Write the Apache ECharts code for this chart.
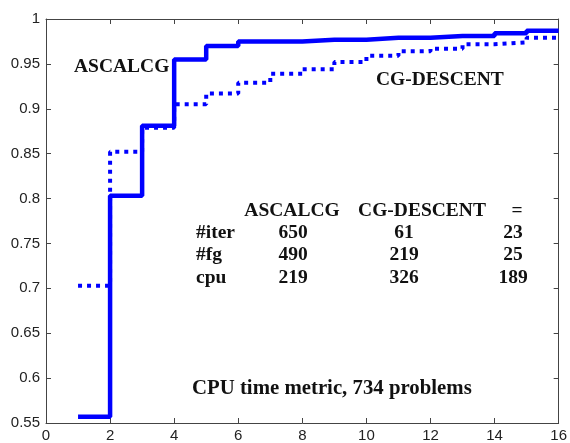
<!DOCTYPE html>
<html><head><meta charset="utf-8">
<script src="https://cdn.jsdelivr.net/npm/echarts@6/dist/echarts.min.js"></script>
<style>html,body{margin:0;padding:0;background:#fff}#c{width:570px;height:443px}</style>
</head><body><div id="c"></div>
<script>
const xs = [1,2,3,4,5,6,7,8,9,10,11,12,13,14,15,16];
const ascalcg = [0.557,0.803,0.881,0.955,0.970,0.975,0.975,0.977,0.977,0.979,0.979,0.981,0.981,0.984,0.987,0.987];
const cgdescent = [0.703,0.852,0.879,0.905,0.917,0.929,0.939,0.944,0.952,0.959,0.964,0.967,0.972,0.974,0.979,0.979];
const seriesNames = ['ASCALCG','CG-DESCENT'];
const tableHeader = ['ASCALCG','CG-DESCENT','='];
const rowLabels = ['#iter','#fg','cpu'];
const rowAscalcg = [650,490,219];
const rowCgdescent = [61,219,326];
const rowEqual = [23,25,189];
const caption = 'CPU time metric, 734 problems';

const chart = echarts.init(document.getElementById('c'));
const serif = '"Liberation Serif", "Times New Roman", serif';
const tf = {fontFamily: serif, fontWeight: 'bold', fontSize: 19.5, fill: '#111'};
const axisLine = {show: true, onZero: false, lineStyle: {color: '#444', width: 1}};
const tick = {show: true, inside: true, length: 5, lineStyle: {color: '#444'}};
const lbl = {fontFamily: '"Liberation Sans", Arial, sans-serif', fontSize: 15, color: '#222'};

const g = [];
function txt(x, y, s, align, size) {
  g.push({type: 'text', x: x, y: y, z: 10, style: Object.assign({}, tf, {text: String(s), textAlign: align || 'left', textVerticalAlign: 'middle'}, size ? {fontSize: size} : {})});
}
txt(74, 67, seriesNames[0]);
txt(376, 80, seriesNames[1]);
txt(292, 211, tableHeader[0], 'center');
txt(422, 211, tableHeader[1], 'center');
txt(517, 211, tableHeader[2], 'center');
const rowY = [233, 255, 278];
rowLabels.forEach((r, i) => {
  txt(196, rowY[i], r);
  txt(293, rowY[i], rowAscalcg[i], 'center');
  txt(404, rowY[i], rowCgdescent[i], 'center');
  txt(513, rowY[i], rowEqual[i], 'center');
});
txt(192, 389, caption, 'left', 20.8);

chart.setOption({
  animation: false,
  grid: {left: 46, right: 9, top: 19, bottom: 17, containLabel: false},
  xAxis: [
    {type: 'value', min: 0, max: 16, interval: 2, axisLine: axisLine, axisTick: tick, splitLine: {show: false},
     axisLabel: Object.assign({margin: 5}, lbl)},
    {type: 'value', position: 'top', min: 0, max: 16, interval: 2, axisLine: axisLine, axisTick: tick, splitLine: {show: false},
     axisLabel: {show: false}}
  ],
  yAxis: [
    {type: 'value', min: 0.55, max: 1, interval: 0.05, axisLine: axisLine, axisTick: tick, splitLine: {show: false},
     axisLabel: Object.assign({margin: 6, formatter: v => String(+v.toFixed(2))}, lbl)},
    {type: 'value', position: 'right', min: 0.55, max: 1, interval: 0.05, axisLine: axisLine, axisTick: tick, splitLine: {show: false},
     axisLabel: {show: false}}
  ],
  series: [
    {name: seriesNames[1], type: 'line', step: 'end', showSymbol: false, z: 2,
     data: xs.map((x, i) => [x, cgdescent[i]]),
     lineStyle: {color: '#0000ff', width: 4, type: [4, 5], cap: 'butt'}},
    {name: seriesNames[0], type: 'line', step: 'end', showSymbol: false, z: 3,
     data: xs.map((x, i) => [x, ascalcg[i]]),
     lineStyle: {color: '#0000ff', width: 4.5, type: 'solid'}},
    {name: 'frame', type: 'line', xAxisIndex: 1, yAxisIndex: 1, silent: true, showSymbol: false,
     data: [[xs[0], ascalcg[0]], [xs[xs.length - 1], ascalcg[0]]], lineStyle: {opacity: 0}}
  ],
  graphic: g
});
</script>
</body></html>
